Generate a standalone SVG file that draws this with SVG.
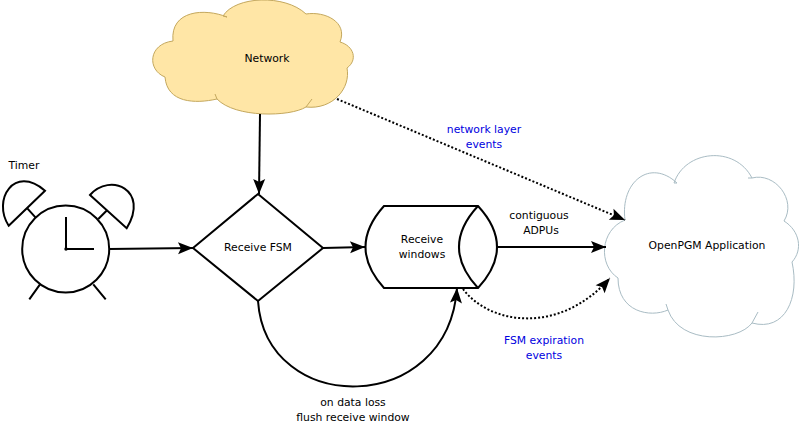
<svg xmlns="http://www.w3.org/2000/svg" width="799" height="428" viewBox="0 0 799 428">
<style>
text{font-family:"DejaVu Sans",sans-serif;font-size:10.8px;fill:#000;text-anchor:middle}
text.b{fill:#0000e0}
.s{fill:none;stroke:#000;stroke-width:2}
.w{fill:#fff;stroke:#000;stroke-width:2;stroke-linejoin:miter}
.c{stroke:#000;stroke-width:2;fill:none;marker-end:url(#a)}
.d{stroke-dasharray:2 2}
</style>
<defs>
<marker id="a" markerUnits="userSpaceOnUse" markerWidth="18" markerHeight="14" refX="15" refY="7" orient="auto" overflow="visible">
<path d="M0 1 L15 7 L0 13 L3 7Z" fill="#000"/>
</marker>
</defs>
<rect width="799" height="428" fill="#fff"/>
<g id="network">
<path d="M223 16C235 -4 285 -6 306 14C325 11 348 22 340 42C354 46 358 60 347 68C351 88 333 110 306 107C290 117 235 118 217 99C195 104 167 103 165 77C147 70 148 44 173 41C170 10 205 8 227 17Z" fill="#ffe6a6" stroke="#c4a85e" stroke-width="1"/>
<path d="M312 99L306 107M215 94L217 99" fill="none" stroke="#c4a85e" stroke-width="1"/>
<text x="267" y="62">Network</text>
</g>
<g id="timer">
<text x="24" y="169">Timer</text>
<circle cx="65.7" cy="249" r="43.5" class="s"/>
<path d="M66 217V249H94M27.3 208.3L35.7 217.7M107.3 210L98.3 219M40 284.3L29.3 299.3M93.3 284.3L105.7 299.3" class="s"/>
<circle cx="66" cy="249" r="1.7"/>
<path d="M8.7 225.7L45 190.7C14 164 -8 200 8.7 225.7Z" class="s"/>
<path d="M90 195L126.7 228.3C150 190 110 172 90 195Z" class="s"/>
</g>
<g id="fsm">
<path d="M193 248L258 194L323 248L258 301Z" class="w"/>
<text x="258" y="251">Receive FSM</text>
</g>
<g id="windows">
<path d="M384 206H478Q516 247 478 288H384Q347 247 384 206Z" class="w"/>
<path d="M478 206Q440 247 478 288" class="s"/>
<text x="422" y="243">Receive</text>
<text x="422" y="258">windows</text>
</g>
<g id="application">
<path d="M674 183C685 150 735 145 752 178C775 172 797 200 784 221C800 231 803 250 792 262C800 298 785 332 752 323C738 342 680 345 668 310C650 318 618 312 618 278C598 265 600 230 625 220C620 182 650 158 677 183Z" fill="#fff" stroke="#a9bcc4" stroke-width="1"/>
<path d="M758 312L752 323M666 304L668 310M748 178H752" fill="none" stroke="#a9bcc4" stroke-width="1"/>
<text x="707" y="249">OpenPGM Application</text>
</g>
<g id="connectors">
<path class="c" d="M260 114L259 194"/>
<path class="c" d="M109 249L193 248"/>
<path class="c" d="M323 248L365 247"/>
<path class="c" d="M497 247L606 247"/>
<path class="c d" d="M337 99L625 220"/>
<path class="c d" d="M463 289C490 325 560 335 610 278"/>
<path class="c" d="M258 301C266 417 448 417 457 288"/>
</g>
<g id="labels">
<text class="b" x="484" y="133">network layer</text>
<text class="b" x="484" y="148">events</text>
<text x="539" y="219">contiguous</text>
<text x="541" y="234">ADPUs</text>
<text class="b" x="544" y="344">FSM expiration</text>
<text class="b" x="544" y="359">events</text>
<text x="353" y="406">on data loss</text>
<text x="353" y="421">flush receive window</text>
</g>
</svg>
